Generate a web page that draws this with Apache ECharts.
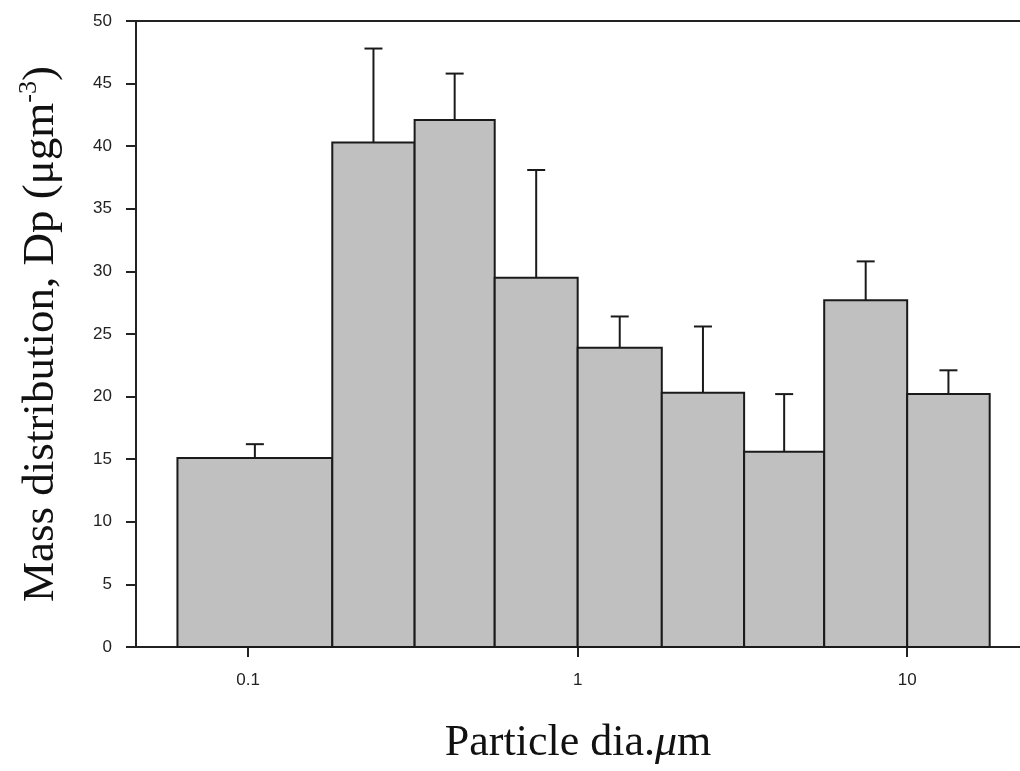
<!DOCTYPE html>
<html>
<head>
<meta charset="utf-8">
<script src="https://cdn.jsdelivr.net/npm/echarts@6/dist/echarts.min.js"></script>
<style>
html,body{margin:0;padding:0;background:#fff;}
#chart{width:1020px;height:771px;}
</style>
</head>
<body>
<div id="chart"></div>
<script>
// Size bins (particle diameter, µm) — lower and upper edges
var binLower = [0.061, 0.18, 0.32, 0.56, 1.0, 1.8, 3.2, 5.6, 10];
var binUpper = [0.18, 0.32, 0.56, 1.0, 1.8, 3.2, 5.6, 10, 17.8];
// Mass distribution (µg m^-3)
var massMean = [15.1, 40.3, 42.1, 29.5, 23.9, 20.3, 15.6, 27.7, 20.2];
var massErr  = [1.1, 7.5, 3.7, 8.6, 2.5, 5.3, 4.6, 3.1, 1.9];
// Tick labels
var xTicks = [0.1, 1, 10];
var yTicks = [0, 5, 10, 15, 20, 25, 30, 35, 40, 45, 50];

var barData = binLower.map(function (lo, i) { return [lo, binUpper[i], massMean[i]]; });
var errData = binLower.map(function (lo, i) { return [lo, binUpper[i], massMean[i], massErr[i]]; });

var chart = echarts.init(document.getElementById('chart'), null, {renderer: 'canvas'});

var option = {
  backgroundColor: '#ffffff',
  animation: false,
  grid: {left: 136, right: 0, top: 21, bottom: 124, containLabel: false},
  xAxis: [{
    type: 'log',
    logBase: 10,
    min: 0.04566,
    max: 22.0,
    position: 'bottom',
    axisLine: {show: true, lineStyle: {color: '#222', width: 2}},
    axisTick: {show: true, length: 10, inside: false, customValues: xTicks, lineStyle: {color: '#222', width: 2}},
    minorTick: {show: false},
    splitLine: {show: false},
    axisLabel: {show: true, customValues: xTicks, margin: 25, color: '#222', fontFamily: 'Liberation Sans, Arial, sans-serif', fontSize: 17,
      formatter: function (v) { return String(v); }},
    name: '{t|Particle dia.}{mu|\u03bc}{t|m}',
    nameLocation: 'middle',
    nameGap: 74,
    nameTextStyle: {
      rich: {
        t: {fontFamily: 'Liberation Serif, Times New Roman, serif', fontSize: 44, color: '#111'},
        mu: {fontFamily: 'Liberation Serif, Times New Roman, serif', fontSize: 44, fontStyle: 'italic', color: '#111'}
      }
    }
  }, {
    type: 'value',
    position: 'top',
    min: 0, max: 1,
    axisLine: {show: true, lineStyle: {color: '#222', width: 2}},
    axisTick: {show: false},
    axisLabel: {show: false},
    splitLine: {show: false}
  }],
  yAxis: {
    type: 'value',
    min: 0,
    max: 50,
    interval: 5,
    axisLine: {show: true, lineStyle: {color: '#222', width: 2}},
    axisTick: {show: true, length: 10, inside: false, lineStyle: {color: '#222', width: 2}},
    splitLine: {show: false},
    axisLabel: {margin: 24, color: '#222', fontFamily: 'Liberation Sans, Arial, sans-serif', fontSize: 17,
      formatter: function (v) { return yTicks.indexOf(v) >= 0 ? String(v) : ''; }},
    name: '{t|Mass distribution, Dp (\u03bcgm}{sup|-3}{t|)}',
    nameLocation: 'middle',
    nameGap: 70,
    nameRotate: 90,
    nameTextStyle: {
      rich: {
        t: {fontFamily: 'Liberation Serif, Times New Roman, serif', fontSize: 45, color: '#111', lineHeight: 50},
        sup: {fontFamily: 'Liberation Serif, Times New Roman, serif', fontSize: 26, color: '#111', verticalAlign: 'top', lineHeight: 50}
      }
    }
  },
  series: [{
    type: 'custom',
    xAxisIndex: 0,
    yAxisIndex: 0,
    data: barData,
    renderItem: function (params, api) {
      var p0 = api.coord([api.value(0), 0]);
      var p1 = api.coord([api.value(1), api.value(2)]);
      return {
        type: 'rect',
        shape: {x: p0[0], y: p1[1], width: p1[0] - p0[0], height: p0[1] - p1[1]},
        style: {fill: '#c0c0c0', stroke: '#1a1a1a', lineWidth: 2}
      };
    }
  }, {
    type: 'custom',
    xAxisIndex: 0,
    yAxisIndex: 0,
    data: errData,
    z: 3,
    renderItem: function (params, api) {
      var xc = Math.sqrt(api.value(0) * api.value(1));
      var top = api.value(2) + api.value(3);
      var pb = api.coord([xc, api.value(2)]);
      var pt = api.coord([xc, top]);
      var half = 9;
      return {
        type: 'group',
        children: [{
          type: 'line',
          shape: {x1: pb[0], y1: pb[1], x2: pt[0], y2: pt[1]},
          style: {stroke: '#1a1a1a', lineWidth: 2}
        }, {
          type: 'line',
          shape: {x1: pt[0] - half, y1: pt[1], x2: pt[0] + half, y2: pt[1]},
          style: {stroke: '#1a1a1a', lineWidth: 2}
        }]
      };
    }
  }]
};
chart.setOption(option);
</script>
</body>
</html>
